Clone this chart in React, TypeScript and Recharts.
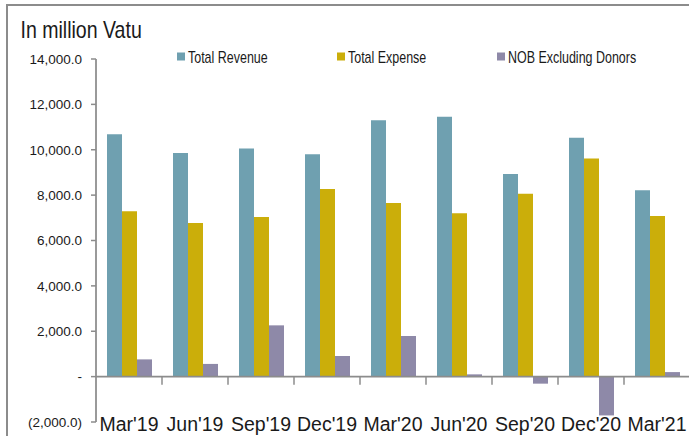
import React from "react";
import { BarChart, Bar, XAxis, YAxis, ReferenceLine, Legend } from "recharts";

const categories = ["Mar'19", "Jun'19", "Sep'19", "Dec'19", "Mar'20", "Jun'20", "Sep'20", "Dec'20", "Mar'21"];
const totalRevenue = [10680, 9860, 10060, 9800, 11300, 11460, 8930, 10530, 8220];
const totalExpense = [7290, 6770, 7040, 8270, 7650, 7200, 8060, 9610, 7080];
const nobExclDonors = [760, 560, 2260, 910, 1790, 100, -310, -1710, 200];
const yTicks = [-2000, 0, 2000, 4000, 6000, 8000, 10000, 12000, 14000];
const seriesNames = ["Total Revenue", "Total Expense", "NOB Excluding Donors"];

const data = categories.map((c, i) => ({
  name: c,
  revenue: totalRevenue[i],
  expense: totalExpense[i],
  nob: nobExclDonors[i],
}));

const FONT = "'Liberation Sans', Arial, sans-serif";
const AXIS = "#8c8c8c";
const TEXT = "#1a1a1a";
const C_REV = "#6fa0b0";
const C_EXP = "#cbae0a";
const C_NOB = "#8e89a8";
const seriesColors = [C_REV, C_EXP, C_NOB];

const fmtY = (v: number) => {
  if (v === 0) return "-";
  const s = Math.abs(v).toLocaleString("en-US", { minimumFractionDigits: 1, maximumFractionDigits: 1 });
  return v < 0 ? `(${s})` : s;
};

const SText = ({ x, y, sx = 1, size, anchor = "start", children }: any) => (
  <text
    transform={`translate(${x},${y}) scale(${sx},1)`}
    textAnchor={anchor}
    fontSize={size}
    fontFamily={FONT}
    fill={TEXT}
  >
    {children}
  </text>
);

const XTick = (props: any) => (
  <SText x={props.x} y={props.y + 8.7} size={19.5} anchor="middle">
    {props.payload.value}
  </SText>
);

const YTick = (props: any) => (
  <SText x={props.x} y={props.y + 13.5 * 0.355} size={13.5} anchor="end">
    {fmtY(props.payload.value)}
  </SText>
);

const ZeroAxis = (props: any) => {
  const { x1, y1, x2, y2 } = props;
  const n = categories.length;
  const step = (x2 - x1) / n;
  const ticks = [];
  for (let k = 1; k < n; k++) {
    const tx = x1 + step * k;
    ticks.push(<line key={k} x1={tx} x2={tx} y1={y1} y2={y1 + 8} stroke={AXIS} strokeWidth={1.5} />);
  }
  return (
    <g>
      <line x1={x1} y1={y1} x2={x2} y2={y2} stroke={AXIS} strokeWidth={1.75} />
      {ticks}
    </g>
  );
};

const LegendContent = () => (
  <svg width={520} height={22}>
    {seriesNames.map((name, i) => (
      <g key={name} transform={`translate(${i * 160},0)`}>
        <rect x={0} y={5.5} width={8} height={8} fill={seriesColors[i]} />
        <SText x={11} y={15.8} size={16} sx={0.78}>
          {name}
        </SText>
      </g>
    ))}
  </svg>
);

export default function App() {
  return (
    <div style={{ position: "absolute", left: 0, top: 0, width: 689, height: 436, overflow: "hidden", background: "#fff" }}>
      <div
        style={{
          position: "absolute",
          left: 6,
          top: 4,
          width: 720,
          height: 500,
          borderTop: `2px solid ${AXIS}`,
          borderLeft: `2px solid ${AXIS}`,
        }}
      />
      <svg style={{ position: "absolute", left: 0, top: 0 }} width={689} height={60}>
        <SText x={20.5} y={38.3} size={23} sx={0.85}>
          In million Vatu
        </SText>
      </svg>
      <div style={{ position: "absolute", left: 0, top: 0 }}>
        <BarChart
          width={690}
          height={436}
          data={data}
          margin={{ top: 59, right: 0, left: 0, bottom: 0 }}
          barCategoryGap="16.67%"
          barGap={0}
        >
          <XAxis
            dataKey="name"
            axisLine={false}
            tickLine={false}
            tickSize={0}
            tickMargin={0}
            height={14}
            interval={0}
            tick={<XTick />}
          />
          <YAxis
            width={96}
            domain={[-2000, 14000]}
            ticks={yTicks}
            interval={0}
            axisLine={{ stroke: AXIS, strokeWidth: 1.75 }}
            tickLine={{ stroke: AXIS, strokeWidth: 1.5 }}
            tickSize={5}
            tickMargin={9}
            tick={<YTick />}
            allowDataOverflow
          />
          <Legend
            layout="horizontal"
            verticalAlign="middle"
            align="center"
            content={<LegendContent />}
            wrapperStyle={{ left: 177, top: 47, width: 520, height: 22 }}
          />
          <Bar dataKey="revenue" name={seriesNames[0]} fill={C_REV} isAnimationActive={false} />
          <Bar dataKey="expense" name={seriesNames[1]} fill={C_EXP} isAnimationActive={false} />
          <Bar dataKey="nob" name={seriesNames[2]} fill={C_NOB} isAnimationActive={false} />
          <ReferenceLine y={0} shape={<ZeroAxis />} />
        </BarChart>
      </div>
    </div>
  );
}
